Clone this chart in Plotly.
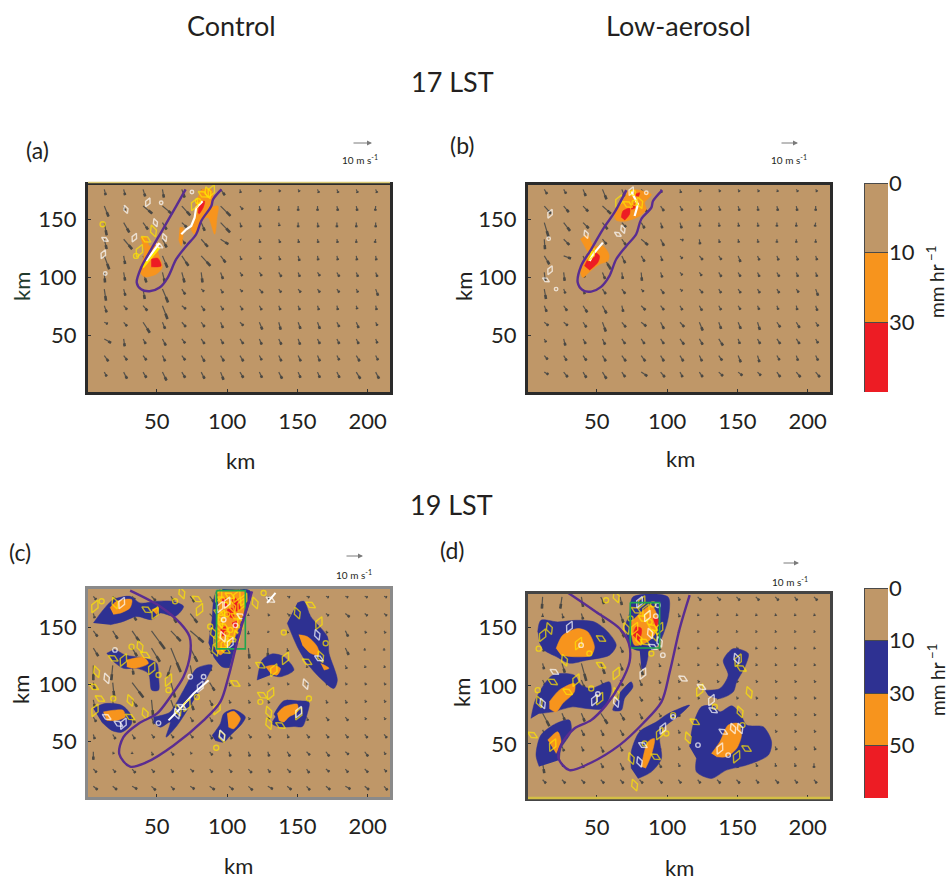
import plotly.graph_objects as go

N = None
TICKS_X = [50, 100, 150, 200]
TICKS_Y = [50, 100, 150]
COLORBAR_TOP = ["0", "10", "30"]
COLORBAR_BOTTOM = ["0", "10", "30", "50"]

TAN = "#BF9768"; BLUE = "#2E3192"; ORANGE = "#F7941D"; RED = "#ED1C24"
PURPLE = "#5A2D91"; GREEN = "#1FA64F"; YELLOW = "#FFE600"; WHITE = "#FFFFFF"
INK = "#231F20"
FONT = "Lato, Open Sans, sans-serif"

# ---------- wind grids (km) ----------
GRID_X_AB = [12.6, 26.4, 40.2, 54, 67.8, 81.6, 95.4, 109.2, 123, 136.8, 150.6, 164.4, 178.2, 192, 205.8]
GRID_Y_AB = [176.2, 161.8, 147.5, 133.1, 118.7, 104.4, 90, 75.6, 61.3, 46.9, 32.5, 18.2]
GRID_X_C = [4.8, 18.6, 32.4, 46.2, 60, 73.8, 87.6, 101.4, 115.2, 129, 142.8, 156.6, 170.4, 184.2, 198, 211.8]
GRID_Y_C = [177.6, 162.4, 147.2, 132, 116.8, 101.6, 86.4, 71.2, 56, 40.8, 25.6, 10.4]
GRID_X_D = [11.4, 25.2, 39, 52.8, 66.6, 80.4, 94.2, 108, 121.8, 135.6, 149.4, 163.2, 177, 190.8, 204.6]
GRID_Y_D = [176.5, 162.2, 147.9, 133.6, 119.3, 105, 90.7, 76.4, 62.1, 47.8, 33.5, 19.2]

A_U = [
 [1,1,1.5,1,2,3,3,.5,1,1,1,1,1,1,1],
 [3,1,6.5,7,6,7,7,2,.5,0,0,0,.7,.7,-.3],
 [1.7,4,3.5,3,3.5,2.5,6.7,1,.7,.5,0,.5,0,0,0],
 [1.7,6,3.5,3,2.4,4.7,5.5,.7,.5,1,.5,.5,.5,0,-.5],
 [3.5,1,3.5,3.5,4.7,6.5,3.5,1,1,1,1,.5,.7,.5,.5],
 [.5,1,2.4,1.7,1.9,.9,1.7,1.7,1.7,1.9,1.2,1.7,1.7,1.2,1.2],
 [1.2,1.2,1.2,4,2.4,2,1.7,1.7,2.4,1.7,1.9,1.7,1.7,1.2,1.7],
 [1.7,2.4,3,3.6,2.9,2.4,1.9,1.9,1.7,1.2,1.2,1,.7,.7,.7],
 [2.4,2.4,4.8,1.9,2.9,2.4,1.7,2.4,2.1,1.4,1.7,1.7,1.7,1.7,1.2],
 [4.8,.7,1.9,2.4,2.4,2.4,1.9,2.4,1.7,1.9,1.4,1.7,1.7,1.7,1.2],
 [2.9,2.4,2.4,1.9,2.4,2.4,2.4,2.4,1.7,1.9,1.9,1.7,1.7,2.4,1.7],
 [1.7,2.4,2.4,2.9,2.4,2.4,2.1,2.4,1.9,2.4,1.7,1.7,1.9,2.9,2.4],
]
A_V = [
 [-5,-5,-6,-7,-7,-7,-5,-3,-2,-2,-2,-3,-3,-3,-3],
 [-9,-4,-6.5,-7,-8,-7,-8.5,-3,-4,-4,-4,-4,-4,-4,-4],
 [-11,-8.5,-6,-6,-4,-7,-8.5,-4,-4,-3,-4,-4,-4,-4,-4],
 [-8.5,-8.5,-10,-7,-4,-6.5,-4.3,-.6,-3,-3,-3,-3,-3,-3,-3],
 [-11.5,-7,-13,-10,-8.6,-8.6,-5.7,-3.5,-3,-3.7,-4.3,-3.7,-3.7,-3.7,-3.7],
 [-8.6,-7,-8.6,-8.6,-8.6,-8.6,-5.7,-3,-3,-3.7,-3.7,-3,-3.7,-3.7,-3.7],
 [-10,-5.7,-8.6,-11.5,-4.6,-2,-3.4,-2.3,-3.4,-2.9,-2.9,-2.9,-2.9,-2.9,-5.7],
 [-5.7,-3.4,-4.3,-11.5,-2.9,-4.3,-3.7,-3.7,-3.7,-3.7,-3.7,-3.7,-3.7,-2.9,-3.7],
 [-1.4,-3.4,-9,-5.7,-4,-4,-4.9,-2.9,-6.3,-6.3,-5.7,-5.7,-4,-4.9,-2.9],
 [-3.4,-6.3,-4.3,-5.7,-3.7,-4.3,-4.3,-4.3,-4.9,-4.9,-4.9,-4.3,-4.3,-4.3,-3.7],
 [-4.9,-4,-4,-4.9,-4,-5.2,-4.9,-4.9,-4,-4.9,-4.9,-4.9,-4,-4.9,-4],
 [-3.7,-5.7,-4.9,-7.2,-4.9,-5.7,-6.6,-4.9,-4.9,-5.7,-4.9,-4.9,-4.9,-5.7,-5.7],
]
B_U = [
 [2,1.7,1.9,2.9,2,2.4,.7,.7,1,1,1,1,.7,1.2,1],
 [4.8,3.6,3.6,6,4.8,4.8,2.4,1.7,1.2,1,1,.5,.7,.7,0],
 [3,4.5,4,3.6,3,2.4,1.2,1.2,.5,.5,.5,.5,0,0,-.5],
 [.5,4,4.8,2.9,2.9,4.8,2.4,2.4,.5,.7,.5,.5,0,0,0],
 [3.6,5.2,3.6,6,2.4,2.4,1.2,1.7,2.4,1.9,1.7,1.4,1.2,1.2,1],
 [.7,.7,1.2,1.9,.7,.5,1.2,1.7,1.7,1.9,1.7,1.4,1.7,1.2,1],
 [1.2,1.2,1.2,2.4,2.4,1.7,2.4,1.7,2.4,1.7,1.9,1.7,1.7,1.7,1.7],
 [1.7,2.4,3,2.9,1,3,2.4,1.7,1.9,1.7,1.7,1.2,1,.7,1.2],
 [2.9,2.9,2.4,2.4,2.9,3.6,2.4,3,2.4,1.7,1.9,1.7,2.4,2.4,1.9],
 [1.2,1.2,1.9,1.9,2.4,2.4,2.4,2.9,2.4,3,1.2,1.9,2.4,2.4,1.7],
 [2.4,2.1,2.4,2.4,2.9,2.9,2.4,2.4,1.9,2.4,1.9,1.4,1.9,1.2,1.7],
 [2.9,2.9,2.4,2.9,2.4,4.3,3,1.9,2.4,3,3,2.4,2.4,3,3],
]
B_V = [
 [-4,-3.7,-5.7,-8.6,-6,-3,-3,-3,-2,-2,-2,-2,-2,-2,-2],
 [-6.6,-5.2,-4.6,-6.6,-4.3,-5.7,-4.3,-4,-4,-4,-4,-4,-4,-4,-4],
 [-12.4,-7.2,-4.9,-5.7,-4,-4.9,-4.9,-4.9,-3.4,-3.4,-3.4,-3.4,-3.4,-3.4,-3.4],
 [-8.6,-4.9,-8.6,-4.3,-4.9,-4.9,-5.7,-.9,-4.3,-2.9,-2.9,-2.9,-2.9,-2.9,-2.9],
 [-7.2,-2.3,-10,-11.5,-6.3,-4.9,-4.3,-2.3,-3.4,-3.4,-5.2,-3.7,-3.7,-3.7,-3.7],
 [-7.2,-7.2,-4.3,-5.7,-5.7,-7.2,-4.3,-2.3,-2.9,-3.7,-3.7,-3.7,-3.7,-3.7,-3.7],
 [-8.6,-3.7,-4.3,-4.3,-4,-2.3,-4,-1.7,-3.4,-3.4,-3.4,-3.4,-3.4,-2.9,-5.7],
 [-5.2,-4.3,-5.7,-6.6,-5.2,-3.7,-3.7,-3.7,-4.3,-3.7,-3.4,-3.4,-3.4,-3.7,-4.3],
 [-2.9,-2.9,-4.3,-8,-4.3,-3.4,-5.7,-4,-7.2,-5.7,-5.7,-6.6,-4.3,-4.9,-3.4],
 [-2.9,-5.7,-4.3,-4.9,-4.3,-4.3,-4.3,-4.9,-4.9,-5.7,-4.3,-4.3,-4.3,-4.3,-3.7],
 [-3.4,-4.3,-4.3,-4.9,-4.9,-4.9,-4.9,-4.9,-4.9,-4.3,-5.7,-5.7,-4,-4.3,-4.3],
 [-2,-4.3,-4.9,-5.7,-4.3,-3.4,-4.3,-4.3,-4.3,-3.4,-2.9,-2.9,-4.3,-4.3,-4.3],
]
C_U = [
 [2,2,2,3,2,3,3,0,0,1,2,2,2,2,2,2],
 [1,2,3,2,4,5,12,3,0,1,2,2,2,3,2,2],
 [3,3.5,5,9.5,7,9.5,4,1,0,.5,.5,1,1,2,1,1],
 [3.5,3.5,3.5,6,7,5,2,1,.7,0,.5,.5,.5,2.4,0,0],
 [0,-1,1,2.4,-2.4,2,1,0,1,.5,.5,.5,1,1,.5,.5],
 [1,1,8,2,3,2,3.5,1,1,1,1,1,1,1,1,1],
 [1,1,3.5,1.2,3.5,2.4,2,1,1,1,1,1,1,1,1,1],
 [2,2,2,2,2,2,2,2,1,1,1,1,2,2,1,1],
 [1,2,2,2,2,2,2,2,2,2,1,2,2,2,2,2],
 [0,.7,0,1,2,1,2,1,1,1,2,2.4,2.4,2.4,2.4,1],
 [2.4,2,2.4,2,1.7,2.4,2,2,2.4,1.7,2.4,1.9,2.4,2,2.4,1.7],
 [3,3,3.6,3,2.4,3,3.6,3,3,3.6,3,2.4,3,3.6,3,2.4],
]
C_V = [
 [-3,-3,-3,-4,-4,-5,-5,-2,-2,-3,-1,-1,-1,-1,-1,-1],
 [-4,-4,-6,-4,-8,-8,-16,-6,-2,-2,-2,-2,-2,-3,-2,-2],
 [-5,-7,-9,-16,-9,-10,-8,-3,-3,-1.5,-2,-2,-2,-5,-2,-2],
 [-7,-6,-7,-12,-21,-12,-5,-2,-9,-7,-3,-2,-2,-6,-2,-2],
 [-13,-13,-8,-18,-10,-13,-5,-2,-3,-2,-2,-2,-3,-3,-2,-2],
 [-6,-12,-13,-6,-13,-6,-7,-3,-3,-2,-2,-2,-2,-2,-2,-2],
 [-6,-13,-6,-15,-12,-9,-5,-3,-3,-3,-2,-2,-3,-3,-2,-2],
 [-4,-5,-5,-6,-5,-4,-4,-4,-2,-2,-3,-3,-3,-3,-2,-2],
 [-4,-4,-4,-3,-3,-3,-4,-4,-3,-3,-3,-3,-3,-3,-3,-3],
 [-7,-2,-2,-3,-3,-2,-3,-4,-4,-4,-4,-3,-4,-2.4,-4,-2.4],
 [-3,-3,-3.4,-3,-3,-2.4,-3,-3,-3.4,-3,-3,-3.4,-2.4,-3,-3,-2.4],
 [-3,-3,-2.4,-3.4,-3,-2.4,-3,-3,-3.4,-2.4,-3,-3.4,-3,-2.4,-3,-3.4],
]
D_U = [
 [-.5,-1.2,1.2,2.4,1.2,1,1,1,2.4,2.4,2.4,2.4,2.4,1.9,2.4],
 [0,1,1.2,2.4,2.4,2,1,1,.5,.5,.5,.5,.5,.5,.5],
 [1,2,3,3,3,2,1,.5,.5,.5,.5,.5,.5,.5,.5],
 [1,3,2,2,2,2,1,.5,.5,.5,1,.5,.5,.5,.5],
 [1,2,3.5,2.9,1.7,2.4,1,.5,.7,.7,.7,.7,.7,.7,.7],
 [2,2,2.4,2,2,1.7,1,1,1,1,1,1,1,1,1],
 [2,2,2,2,2,2,1,1,1,1,1,1,1,1,1],
 [4.8,2,2.4,4.8,3,2,1.5,1,1,1,1,1,1,1,1],
 [2,2,2,2,2.4,2,1,1,1,1,1,1,1,1,1],
 [2,1.5,1.5,2,1.7,1,1,1,1,1,1,1,1,1,1],
 [1.2,1,1.7,1.7,2.4,1,1.7,1,1,.5,1,1,.5,.7,0],
 [2.4,2.4,2.4,2.4,2.4,2.4,2.4,2,2,2.4,2.4,2,2.4,2,2],
]
D_V = [
 [-10,-10,-8.6,-6,-7,-5,-3,-3,-3,-3,-3,-3,-3,-3,-3],
 [-3,-4,-5,-8,-8,-5,-3,-3,-2,-2,-2,-2,-2,-2,-2],
 [-4,-6,-7,-6,-6,-5,-3,-2,-2,-2,-2,-2,-2,-2,-2],
 [-4,-10,-8,-6,-5,-5,-3,-2,-2,-2,-2,-2,-2,-2,-2],
 [-5,-8,-15,-9,-6,-10,-3,-2,-2,-2,-2,-2,-2,-2,-2],
 [-5,-7,-7,-5,-5,-5,-3,-2,-2,-2,-2,-2,-2,-2,-2],
 [-4,-5,-5,-4,-4,-4,-3,-2,-2,-2,-2,-2,-2,-2,-2],
 [-11,-6,-7,-9,-6,-5,-3,-3,-3,-2,-2,-2,-2,-2,-2],
 [-5,-5,-5,-5,-5,-4,-3,-3,-3,-3,-2,-2,-2,-2,-2],
 [-4,-4,-4,-5,-4,-3,-3,-3,-3,-3,-3,-3,-3,-3,-3],
 [-8.6,-3,-4,-4,-6,-3,-4,-3,-4,-4,-4,-3,-3,-3,-4],
 [-3,-3,-3,-3,-3,-3,-3,-3,-3,-3,-3,-3,-3,-3,-3],
]

# ---------- panel (a) ----------
A_ORANGE_X = [38.3,42.4,44.7,51.9,50.7,53.8,49.5,41.2,37.6,40,41.2,N, 81.6,88.8,90,87.6,93.5,92.8,91.2,86.4,81.6,76.9,74.5,76.9,78,N, 66.2,68.6,67.4,65.5]
A_ORANGE_Y = [134.5,135,127.3,130.2,123,108.6,102.9,100.6,105.8,114.4,123,N, 176.2,176.2,166.1,160.4,161.8,151.8,137.4,151.8,148.9,137.4,141.7,154.6,166.1,N, 143.1,143.1,127.3,133]
A_RED_X = [46,50.7,53,46,N, 79.3,81,84,83,80]
A_RED_Y = [115.8,116.7,110,109.2,N, 156,164.7,166,160.4,154.6]
A_YLINE_X = [39.5,51.4]
A_YLINE_Y = [109.2,126.5]
A_WLINE_X = [42.4,51.9,N, 67.4,71,74.5,76.9,78,82.6]
A_WLINE_Y = [114.4,130,N, 137.4,141.7,144.6,151.8,160.4,166]
A_YPT_X = [76.9,79.3,86.4,82.9,88.8,11.4,47.6,42.4,37.6,35.2]
A_YPT_Y = [163.2,166.1,173.3,171.9,174.7,146,140.2,133,123,118.7]
A_WPT_X = [43.6,53.1,49,13.1,11.9,13.3,55.5,51.9,34,75,28]
A_WPT_Y = [165,164.7,147.4,133,120.1,103.5,134.5,127.3,134.5,173.9,158.9]
A_PURPLE_X = [70.5,63.8,54.3,46,38.8,35.7,38.8,44.8,52,57.8,63.8,71,78,81.6,88.8,90,96]
A_PURPLE_Y = [176.2,161.8,141.7,124.4,108.6,95.6,89.8,88.1,91.3,100,115.8,127.3,137.4,148.9,161.8,167.5,176.2]

# ---------- panel (b) ----------
B_ORANGE_X = [38.3,43.6,47.6,54.3,58.6,58,52,46,40,38.3,41.2,43.6,N, 72,76.9,88.8,84,85.2,80.5,71,63.8,62.6,68.6,71]
B_ORANGE_Y = [133,136.5,127.3,127.3,120.1,114.4,111.5,106.3,100,105.8,115.8,121.6,N, 174.7,176.2,171.9,164.7,159,153.2,148.9,149.5,157.5,166.1,172]
B_RED_X = [41.2,43.6,48.3,51.9,50.7,44.8,N, 67.4,68.6,73.3,73.3,69.8,N, 74.5,76.9,76.9,74.5,N, 76.9,80.5,79.3]
B_RED_Y = [110,115.8,121.6,118.7,113,106.3,N, 152,157.5,159.8,154.6,149.5,N, 161.8,163.8,159.8,159,N, 171.9,173.3,169]
B_YLINE_X = [45,46.6]
B_YLINE_Y = [114.4,123]
B_WLINE_X = [44.8,48.3,54.3,N, 76.9,79.3,74.5]
B_WLINE_Y = [114.4,121.6,130.2,N, 153.2,163.2,174.7]
B_YPT_X = [46,76.9,80.5,72,65.7,75.7]
B_YPT_Y = [120.1,164.7,164.7,163.2,166.1,173.3]
B_WPT_X = [16.7,15.7,42.4,13.8,16.7,21,68.6,65,74.5,85.2]
B_WPT_Y = [155.2,133.6,137.4,98,106.3,90,141.7,137.4,174.7,173.3]
B_PURPLE_X = [71,62.9,54.3,46,38.8,36.4,40,46,53,59,63.8,71,78,81.6,88.8,90,96.6]
B_PURPLE_Y = [175.6,157,141.7,124.4,110,95.6,89,87.8,91.9,101.4,115.8,127.3,137.4,150.4,160.4,166.1,175.6]

# ---------- panel (c) ----------
C_BLUE_X = [4.8,11.9,19,31,38,50,60.7,69,63,52.4,46.4,35.7,26.2,16.7,N,
 14.3,20.2,27.4,41.7,50,51.2,51.2,46.4,44,35.7,26.2,17.9,N,
 4.8,13,25,31,32,25,17.9,10.7,N,
 47.6,53.6,59.5,69,78.5,89.3,83.3,76,64.3,56.6,59.5,52.4,47.6,N,
 86.9,89.3,92.8,116.6,113,104.7,101,96.4,90.4,N,
 89.3,95.2,97.6,104.7,113,110.6,102.3,97.6,91.6,N,
 133.3,140.4,150,158.3,157,153.6,147.6,138,132.1,134.5,N,
 121.4,125,132,140.4,147.6,138,131,N,
 150,154.7,159.5,171.4,172.6,178.5,176,166.6,157,150,142.8]
C_BLUE_Y = [154,165.8,174.6,177.6,171.7,173.2,173.2,168.8,159.9,162.9,157,159.9,155.5,152.5,N,
 127.4,130.4,126,123,118.6,106.8,95,95,109.7,114.2,114.2,121.5,N,
 78.8,83.2,81.7,74.3,65.5,58,59.6,67,N,
 71.4,72.9,75.8,95,114.2,117,100.9,86,63.7,53.7,67,62.4,67,N,
 136.3,157,182,182,160,128.9,115,115.6,124.5,N,
 55,65.5,74.3,77.9,71.4,65.5,55.2,49.3,50.8,N,
 73.7,85.6,85.6,84.2,74,63,63,62.5,65.5,71.4,N,
 103.8,121.5,126.9,124.5,112.7,106.8,108.3,N,
 171.7,173.2,159.9,142.2,127.4,103.8,96.5,105.3,118.6,133.3,154]
C_ORANGE_X = [16.7,21.4,32.1,31,25,19,N, 46.4,51,50,N, 28.6,40.5,44,34.5,28.6,N, 11.9,19,26,27.4,21.4,14.3,N,
 92.8,113,113,109.5,105.9,101,95.2,91.6,92.8,94,N, 100,104.7,109.5,104.7,101,N, 135.7,140.4,150,150,144,140.4,136.9,N,
 127.3,133.3,138,135.7,131,N, 151,157,164.2,165.4,159.5,153.6,N, 166.6,172.6,169]
C_ORANGE_Y = [167.6,173.2,174.6,167.6,163.2,161.7,N, 165.8,167.3,161.4,N, 121.5,123.9,118.6,114.2,115.6,N, 75.8,77.3,77.3,71.4,68.4,68.4,N,
 182,182,168.7,154,142.2,133.3,126,131.9,148,165.8,N, 74.3,76.4,69.9,61,62.5,N, 74.3,80.2,82.6,75.8,71.4,67,68.4,N,
 115.6,117,114.2,108.3,109.7,N, 143.7,142.2,133.3,125.8,127.4,134.8,N, 118.6,114.2,112.7]
C_RED_X = [95.2,98.8,98.8,95.2,N, 103.5,105.9,109.5,105.9,N, 100,103.5,104.7,101,N, 103.5,107,105.9,N, 96.4,98.8,100,97]
C_RED_Y = [148,151,143.7,142.2,N, 174.6,176,165.8,164.3,N, 165.8,167.3,158.4,160,N, 154,155.5,148,N, 174.6,176,168.7,168.7]
C_WLINE_X = [58.3,66.6,76.2,86.9,N, 128.5,134.5]
C_WLINE_Y = [68.4,78.8,92,103.8,N, 171.7,180.5]
C_YPT_X = [5.9,10.7,20.2,42.8,48.8,63,67.8,78.5,80.4,88,90.4,19,26.2,32,38,41.7,46.4,51.2,7.1,5.2,58.3,58.3,31,9.5,6,19,41.7,31,71.4,78.5,65.2,105.9,92.8,92.3,96.4,125,131,123.7,129.7,138,151,158.3,129.7,123.7,141.6,140.4,150,159.5,165.4,170.2,166.6,157,133.3,126,120,
 96.4,107,100,109.5,97.6,92.8,100,107,94,111.9,102.3,91.6,98.8,96,99,104,106,110,100,95,103,98,108,94,102,94]
C_YPT_Y = [168.7,173.2,171.7,165.8,162.9,173.2,180.5,175.2,165.8,151,145,123,121.5,133.3,133.3,126,114.2,108.3,111.2,97.9,103.8,95,86,87.6,77.3,87.6,74.3,71.4,81.7,89,77.3,100.9,78.8,44.3,54.3,90.6,92,84.7,65.5,64,74.3,87.6,75.8,117,123,145.7,162.8,170,154,136.3,124.5,120,112.7,180.5,171.7,
 174.6,177.6,161.7,154,151,140.5,136.3,142.2,163.2,174.6,148,130,130,160,170,168,160,170,145,155,140,135,148,145,178,178]
C_WPT_X = [25,20.2,14.3,22.6,26.2,51.2,64.3,67.8,80.9,83.3,96.4,130.9,102.3,97.6,164.2,165.4,151,73.8,155.9,14.3,100,106,97,110,95]
C_WPT_Y = [171.7,130.4,105.3,65.5,65.5,66,74.3,80.2,98,106.8,55.2,174.6,136.3,157,143.7,123,75.8,106.8,100.3,71.4,172,152,142,160,168]
C_PURPLE_X = [31,52.4,66.6,73.3,73.8,69,59.5,50,36.9,26.2,23.3,31,42.8,61.9,83.3,95.2,101,107,113,117.8]
C_PURPLE_Y = [182.6,168.7,154,142.2,127.4,106.8,89,74.3,65.5,53.7,38.9,27.7,31.6,46.3,68.4,84.7,106.8,136.3,162.8,182]
C_GREEN_X = [92.5,92.5,113,113,92.5]
C_GREEN_Y = [182.6,131.3,131.3,182.6,182.6]

# ---------- panel (d) ----------
D_BLUE_X = [7.9,10.2,22.1,35.2,48.3,57.8,63.8,59,42.4,30.5,21,12.6,9,N,
 3.1,6.7,18.6,34,38.8,46,59,60.2,54.3,42.4,32.8,18.6,9,N,
 65,74.5,75.7,69.7,67.4,61.4,63.8,N,
 9,6.7,10.2,21,30.5,31.7,24.5,23.3,N,
 74.5,74.5,80.4,92.4,100.7,116,109,97,94.7,96,88.8,79.3,N,
 116,118.5,124.5,132.8,137.6,146,151.9,156.7,168.5,174.4,172.1,156.6,142.3,131.6,120.9,120.9,N,
 126.9,137.6,143.5,140,147.1,157.8,155.4,149.5,147.1,137.6,129.2,N,
 69.7,73.3,75.7,100.7,100.7,94.7,88.8,75.7,71,N, 80.4,86.4,84,81.7]
D_BLUE_Y = [146.4,156.4,155,156.4,155,146.4,135,126.4,122,119.4,125.2,130.6,137.8,N,
 71.9,89.1,109.2,109.2,100.6,97.7,103.4,94.8,80.5,80.5,81.9,77.6,76.2,N,
 92,103.4,99.1,89.1,79,79,86.2,N,
 30.5,40.5,57.6,67.6,70.5,60.4,46.1,36.1,N,
 28.9,43.3,60.5,69,76,83.4,75,63.3,54.7,37.5,26,20.3,N,
 47.6,66.2,81.9,82.8,77.6,82.8,76.5,66.2,64.7,51.9,40.4,31.8,27.5,20.3,26,37.5,N,
 96.3,97.7,109.2,122,132,127.8,116.3,103.4,94.8,89.1,92,N,
 150.7,162.2,176.5,176.5,157.9,137.8,130.6,132,143.5,N, 132,132,115,115]
D_ORANGE_X = [21,25.7,36.4,43.6,48.3,46,34,24.5,N, 16.2,23.3,34,34,25.7,21,16.2,N, 15,22.1,24.5,21,N,
 81.6,86.4,91,88.8,84.7,N, 131.6,137.6,143.5,150.6,153,149.5,142.3,135.2,N, 74.5,78,88.8,93.5,92.4,86.4,76.9,74.5]
D_ORANGE_Y = [132.1,143.5,149.3,146.4,133.5,126.4,125,126.4,N, 86.2,96.3,102,94.8,84.8,77.6,80.5,N, 53.3,60.5,51.9,41.8,N,
 30.3,51.9,54.7,40.4,29,N, 41.8,51.9,66.2,67.6,57.6,46,39,39,N, 155,159.3,169.3,158,147,138,135,146.4]
D_RED_X = [75.7,78,81.7,80.4,N, 90,93.5,92.4]
D_RED_Y = [143.5,150.7,149.3,137.8,N, 157.9,157.9,149.3]
D_YPT_X = [11.4,8.6,16.2,53,37,44.7,27,18.6,35.2,7.9,9,29.3,52,46,63.8,4.3,18.6,56.6,63.8,82.8,76.9,87.6,91,84,94.7,88.8,71,53,63.8,84,74.5,91.9,94.7,104.3,115,119.7,123.3,134,152,156.6,149.5,153.7,158.5,153,150.6,99.5,76.9,78,85,90,80,90,82,74]
D_YPT_Y = [143.5,132,149.3,140.7,136.4,127.8,122,103.4,104.9,96.3,86.2,94.8,89,97.7,93.4,57.6,49,173.6,176.5,157.9,149.3,155,143.5,137.8,149.3,127.8,149.3,117.8,110.6,50.4,37.5,39,59,74.8,55.3,69,96.3,82,77.6,46,39,66.2,94.3,115,122,59,14.6,165,165,170,140,150,172,158]
D_WPT_X = [30.5,38.8,11.4,19.8,48.3,50.7,63.8,82.8,82.8,97,94.7,90,80.4,93.5,149.5,132.8,131.6,122,147,140,137.6,143.5,152,111.4,97,104.3,80.4,124.5,86,92,88]
D_WPT_Y = [150.7,135,84.8,112,87.7,93,86,49,110.6,126.4,137.8,133.5,172,169.3,123.5,79,87.7,49,63.3,60.5,46,40.4,63.3,106.3,63.3,73.3,34.6,99,160,160,145]
D_PURPLE_X = [29.3,49.5,66.2,72.8,73.3,66.2,56.6,46,34,24.5,22.8,30.5,44.7,66.2,82.8,96,101.9,109,116.1]
D_PURPLE_Y = [180.2,163.6,149.3,136.4,120.6,100.6,83.4,70.5,63.3,49,37.5,27.5,33.2,49,67.6,86.2,112,149.3,178]
D_GREEN_X = [73.8,73.8,94.7,94.7,73.8]
D_GREEN_Y = [171.6,132.6,132.6,171.6,171.6]

W, H = 948, 886
fig = go.Figure()


def dom_x(a, b):
    return [a / W, b / W]


def dom_y(top, bottom):
    return [1 - bottom / H, 1 - top / H]


def fill(ax, xs, ys, color):
    fig.add_trace(go.Scatter(x=xs, y=ys, mode="lines", fill="toself", fillcolor=color,
                             line=dict(color=color, width=0.5, shape="spline", smoothing=0.8),
                             xaxis="x" + ax, yaxis="y" + ax, hoverinfo="skip"))


def line(ax, xs, ys, color, width, spline=False):
    fig.add_trace(go.Scatter(x=xs, y=ys, mode="lines",
                             line=dict(color=color, width=width, shape="spline" if spline else "linear", smoothing=0.9),
                             xaxis="x" + ax, yaxis="y" + ax, hoverinfo="skip"))


LOOP_SYMBOLS = ["diamond-tall-open", "circle-open", "diamond-tall-open", "diamond-wide-open"]
LOOP_SIZES = [10, 5, 9, 8]
LOOP_ANGLES = [25, 0, -20, 30]


def loops(ax, xs, ys, color, scale=1.0):
    n = len(xs)
    fig.add_trace(go.Scatter(x=xs, y=ys, mode="markers",
                             marker=dict(symbol=[LOOP_SYMBOLS[i % 4] for i in range(n)],
                                         size=[LOOP_SIZES[i % 4] * scale for i in range(n)],
                                         angle=[LOOP_ANGLES[i % 4] for i in range(n)],
                                         color=color, line=dict(width=1.4, color=color)),
                             xaxis="x" + ax, yaxis="y" + ax, hoverinfo="skip"))


def quiver(ax, gx, gy, us, vs):
    sx, sy, hx, hy = [], [], [], []
    for row_y, ru, rv in zip(gy, us, vs):
        for col_x, u, v in zip(gx, ru, rv):
            sx += [col_x, col_x + u, None]
            sy += [row_y, row_y + v, None]
            hx += [col_x + 0.6 * u, col_x + u, None]
            hy += [row_y + 0.6 * v, row_y + v, None]
    line(ax, sx, sy, "#55524C", 1.2)
    line(ax, hx, hy, "#4A4843", 2.6)


# (a)
quiver("1", GRID_X_AB, GRID_Y_AB, A_U, A_V)
fill("1", A_ORANGE_X, A_ORANGE_Y, ORANGE)
fill("1", A_RED_X, A_RED_Y, RED)
line("1", A_YLINE_X, A_YLINE_Y, YELLOW, 4)
line("1", A_WLINE_X, A_WLINE_Y, WHITE, 2.2)
loops("1", A_YPT_X, A_YPT_Y, YELLOW)
loops("1", A_WPT_X, A_WPT_Y, WHITE, 0.7)
line("1", A_PURPLE_X, A_PURPLE_Y, PURPLE, 2.4, True)
# (b)
quiver("2", GRID_X_AB, GRID_Y_AB, B_U, B_V)
fill("2", B_ORANGE_X, B_ORANGE_Y, ORANGE)
fill("2", B_RED_X, B_RED_Y, RED)
line("2", B_YLINE_X, B_YLINE_Y, YELLOW, 2.5)
line("2", B_WLINE_X, B_WLINE_Y, WHITE, 2.2)
loops("2", B_YPT_X, B_YPT_Y, YELLOW)
loops("2", B_WPT_X, B_WPT_Y, WHITE, 0.7)
line("2", B_PURPLE_X, B_PURPLE_Y, PURPLE, 2.4, True)
# (c)
quiver("3", GRID_X_C, GRID_Y_C, C_U, C_V)
fill("3", C_BLUE_X, C_BLUE_Y, BLUE)
fill("3", C_ORANGE_X, C_ORANGE_Y, ORANGE)
fill("3", C_RED_X, C_RED_Y, RED)
line("3", C_WLINE_X, C_WLINE_Y, WHITE, 2)
loops("3", C_YPT_X, C_YPT_Y, YELLOW)
loops("3", C_WPT_X, C_WPT_Y, WHITE, 0.9)
line("3", C_GREEN_X, C_GREEN_Y, GREEN, 1.6)
line("3", C_PURPLE_X, C_PURPLE_Y, PURPLE, 2.4, True)
# (d)
quiver("4", GRID_X_D, GRID_Y_D, D_U, D_V)
fill("4", D_BLUE_X, D_BLUE_Y, BLUE)
fill("4", D_ORANGE_X, D_ORANGE_Y, ORANGE)
fill("4", D_RED_X, D_RED_Y, RED)
loops("4", D_YPT_X, D_YPT_Y, YELLOW)
loops("4", D_WPT_X, D_WPT_Y, WHITE, 0.9)
line("4", D_GREEN_X, D_GREEN_Y, GREEN, 1.6)
line("4", D_PURPLE_X, D_PURPLE_Y, PURPLE, 2.4, True)

# colour bars
for ax, colors in (("5", [TAN, ORANGE, RED]), ("6", [TAN, BLUE, ORANGE, RED])):
    for c in colors:
        fig.add_trace(go.Bar(x=[0], y=[1], width=1, xaxis="x" + ax, yaxis="y" + ax,
                             marker=dict(color=c, line=dict(color="#4a4a4a", width=1)), hoverinfo="skip"))


def axis_x(dom, anchor, color, width):
    return dict(domain=dom, range=[1, 216], anchor=anchor, tickvals=TICKS_X, ticks="inside", ticklen=3,
                tickcolor="#333", tickfont=dict(family=FONT, size=22, color=INK), ticklabelstandoff=8,
                showgrid=False, zeroline=False, showline=True, linecolor=color, linewidth=width, mirror=True)


def axis_y(dom, rng, anchor, color, width):
    return dict(domain=dom, range=rng, anchor=anchor, tickvals=TICKS_Y, ticks="inside", ticklen=3,
                tickcolor="#333", tickfont=dict(family=FONT, size=22, color=INK), ticklabelstandoff=4,
                showgrid=False, zeroline=False, showline=True, linecolor=color, linewidth=width, mirror=True)


def bar_y(dom, labels):
    return dict(domain=dom, range=[len(labels), 0], anchor=None, side="right", tickvals=list(range(len(labels))),
                ticktext=labels, ticks="", tickfont=dict(family=FONT, size=22, color=INK), showgrid=False,
                zeroline=False, showline=False)


def bar_x(dom, anchor):
    return dict(domain=dom, range=[-0.5, 0.5], anchor=anchor, visible=False)


def label(text, px, py, size, rot=0, color=INK):
    return dict(text=text, x=px / W, y=1 - py / H, xref="paper", yref="paper", xanchor="center", yanchor="middle",
                showarrow=False, textangle=rot, font=dict(family=FONT, size=size, color=color))


def scale_arrow(x0, x1, py):
    return dict(text="", x=x1 / W, y=1 - py / H, xref="paper", yref="paper", ax=x0 - x1, ay=0,
                showarrow=True, arrowcolor="#7a7a7a", arrowwidth=1, arrowhead=2, arrowsize=1)


annotations = [
    label("Control", 231, 25, 27), label("Low-aerosol", 678, 25, 27),
    label("17 LST", 452, 82, 27), label("19 LST", 451, 505, 27),
    label("(a)", 37, 150, 23), label("(b)", 462, 145, 23), label("(c)", 20, 552, 23), label("(d)", 452, 550, 23),
    label("km", 22, 287, 22, -90, "#1F3B2D"), label("km", 464, 287, 22, -90), label("km", 20, 690, 22, -90), label("km", 461, 693, 22, -90),
    label("km", 240, 460, 22), label("km", 680, 458, 22), label("km", 238, 865, 22), label("km", 679, 867, 22),
    label("mm hr<sup> −1</sup>", 936, 282, 19, -90), label("mm hr<sup> −1</sup>", 936, 680, 19, -90),
    label("10 m s<sup>-1</sup>", 360, 159, 10), label("10 m s<sup>-1</sup>", 789, 160, 10),
    label("10 m s<sup>-1</sup>", 354, 574, 10), label("10 m s<sup>-1</sup>", 790, 581, 10),
    scale_arrow(352, 372, 143), scale_arrow(780, 798, 143), scale_arrow(345, 363, 556), scale_arrow(782, 799, 563),
]

shapes = [
    dict(type="line", xref="x domain", yref="y domain", x0=0, x1=1, y0=1.012, y1=1.012, line=dict(color="#D9C873", width=1.5)),
    dict(type="line", xref="x4 domain", yref="y4 domain", x0=0, x1=1, y0=0, y1=0, line=dict(color="#D4BF45", width=2.5)),
]

fig.update_layout(
    width=W, height=H, margin=dict(l=0, r=0, t=0, b=0, pad=0, autoexpand=False), paper_bgcolor="white", plot_bgcolor=TAN,
    showlegend=False, barmode="stack", annotations=annotations, shapes=shapes,
    xaxis=axis_x(dom_x(88, 390), "y", "#2A2A2A", 3),
    yaxis=axis_y(dom_y(185, 392), [1, 180], "x", "#2A2A2A", 3),
    xaxis2=axis_x(dom_x(528, 830), "y2", "#2A2A2A", 3),
    yaxis2=axis_y(dom_y(185, 392), [1, 180], "x2", "#2A2A2A", 3),
    xaxis3=axis_x(dom_x(88, 390), "y3", "#8A8A8A", 2.5),
    yaxis3=axis_y(dom_y(589, 797), [1, 184], "x3", "#8A8A8A", 2.5),
    xaxis4=axis_x(dom_x(528, 830), "y4", "#444444", 2.5),
    yaxis4=axis_y(dom_y(594, 798), [3.5, 179], "x4", "#444444", 2.5),
    xaxis5=bar_x(dom_x(864, 888), "y5"),
    yaxis5=dict(bar_y(dom_y(183, 392), COLORBAR_TOP), anchor="x5"),
    xaxis6=bar_x(dom_x(864, 888), "y6"),
    yaxis6=dict(bar_y(dom_y(588, 798), COLORBAR_BOTTOM), anchor="x6"),
)

fig.write_html("out.html", config={"displayModeBar": False},
               post_script="document.body.style.margin='0';document.body.style.overflow='hidden';")
